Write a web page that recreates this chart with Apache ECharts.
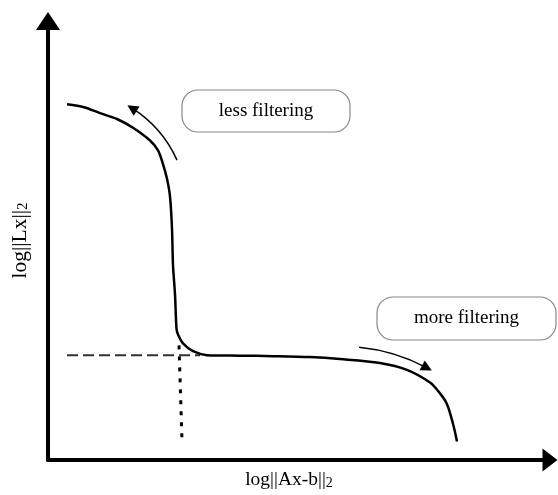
<!DOCTYPE html>
<html>
<head>
<meta charset="utf-8">
<script src="https://cdn.jsdelivr.net/npm/echarts@6/dist/echarts.min.js"></script>
<style>html,body{margin:0;padding:0;background:#fff}#c{width:558px;height:495px}</style>
</head>
<body>
<div id="c"></div>
<script>
// L-curve (arbitrary units)
const curveX = [19,36,52,69,85,102,110,115,119,122,124,125,127,128.5,130,135,145,159,192,225,262,292,332,359,382,392,399,405,409];
const curveY = [363,360,354,348,339,326,316,302,287,269,236,199,169,134,128,119,111,107,106.5,106,105,103,99,92,79,68,57,37,19];
// corner guide lines
const hGuideX = [19,152], hGuideY = [107,107];
const vGuideX = [131,134], vGuideY = [117,19];
// annotation arrows (start, end)
const lessArrowX = [129,84], lessArrowY = [306,359];
const moreArrowX = [311,379], moreArrowY = [115,94];
const labelLess = 'less filtering';
const labelMore = 'more filtering';
const xName = 'log||Ax-b||', yName = 'log||Lx||', sub = '2';

const zip = (a,b) => a.map((v,i)=>[v,b[i]]);
const FONT = '"Liberation Serif","Times New Roman",serif';
const chart = echarts.init(document.getElementById('c'));
const axisCommon = {
  type:'value', min:0, axisTick:{show:false}, axisLabel:{show:false}, splitLine:{show:false},
  nameLocation:'middle'
};
chart.setOption({
  animation:false,
  backgroundColor:'#fff',
  grid:{left:48,right:8,top:21,bottom:26},
  xAxis:Object.assign({}, axisCommon, {
    max:502,
    axisLine:{show:true, lineStyle:{color:'#000', width:4}, symbol:['none','triangle'], symbolSize:[23,15]},
    name:'{a|'+xName+'}{s|'+sub+'}', nameGap:10,
    nameTextStyle:{padding:[0,20,0,0], rich:{
      a:{fontFamily:FONT, fontSize:19.5, color:'#000', lineHeight:20, verticalAlign:'bottom'},
      s:{fontFamily:FONT, fontSize:14, color:'#000', lineHeight:20, verticalAlign:'bottom'}}}
  }),
  yAxis:Object.assign({}, axisCommon, {
    max:448,
    axisLine:{show:true, lineStyle:{color:'#000', width:4}, symbol:['none','triangle'], symbolSize:[24,18]},
    name:'{a|'+yName+'}{s|'+sub+'}', nameGap:17, nameRotate:90,
    nameTextStyle:{rich:{
      a:{fontFamily:FONT, fontSize:21.5, color:'#000', lineHeight:22, verticalAlign:'bottom'},
      s:{fontFamily:FONT, fontSize:15, color:'#000', lineHeight:22, verticalAlign:'bottom'}}}
  }),
  series:[
    {type:'line', data:zip(curveX,curveY), smooth:0.3, showSymbol:false,
     lineStyle:{color:'#000', width:2.5}, z:5},
    {type:'line', data:zip(hGuideX,hGuideY), showSymbol:false,
     lineStyle:{color:'#333', width:2, type:[11,5]}},
    {type:'line', data:zip(vGuideX,vGuideY), showSymbol:false,
     lineStyle:{color:'#000', width:3, type:[4,7]}},
    {type:'lines', coordinateSystem:'cartesian2d',
     symbol:['none','triangle'], symbolSize:[9,11],
     lineStyle:{color:'#000', width:1.5, opacity:1},
     data:[
       {coords:zip(lessArrowX,lessArrowY), lineStyle:{curveness:-0.15}},
       {coords:zip(moreArrowX,moreArrowY), lineStyle:{curveness:0.1}}
     ]}
  ],
  graphic:[
    {type:'rect', shape:{x:182,y:90,width:168,height:42,r:16},
     style:{fill:'#fff', stroke:'#888', lineWidth:1.2},
     textContent:{style:{text:labelLess, font:'19px '+FONT, fill:'#000'}},
     textConfig:{position:'inside'}},
    {type:'rect', shape:{x:377,y:297,width:179,height:43,r:16},
     style:{fill:'#fff', stroke:'#888', lineWidth:1.2},
     textContent:{style:{text:labelMore, font:'19px '+FONT, fill:'#000'}},
     textConfig:{position:'inside'}}
  ]
});
</script>
</body>
</html>
